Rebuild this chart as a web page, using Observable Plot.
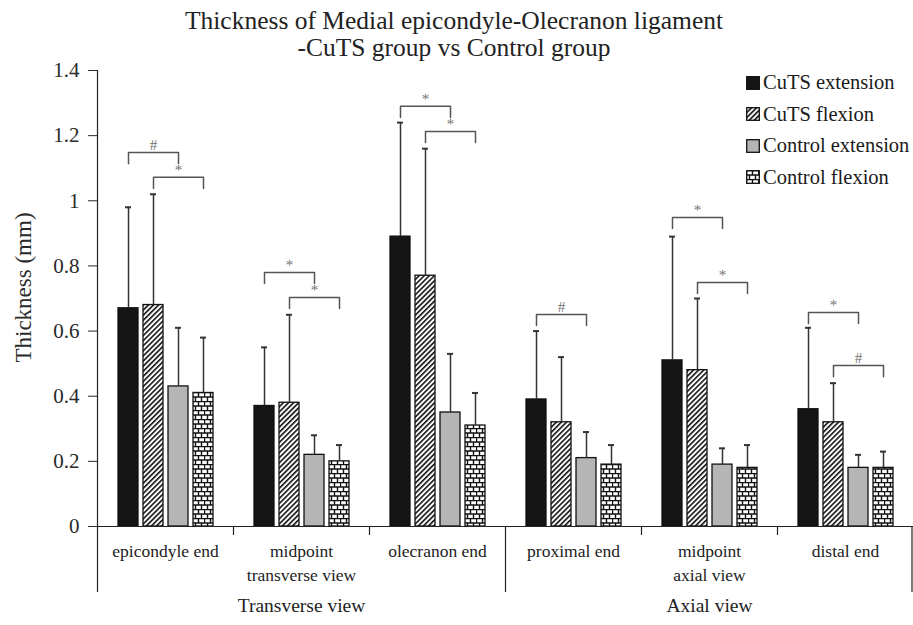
<!DOCTYPE html>
<html><head><meta charset="utf-8">
<script src="https://cdn.jsdelivr.net/npm/d3@7"></script>
<script src="https://cdn.jsdelivr.net/npm/@observablehq/plot@0.6"></script>
<style>
body{margin:0;background:#fff;overflow:hidden;font-family:"Liberation Serif",serif;}
#wrap{position:relative;width:913px;height:625px;overflow:hidden;}
#title{height:50px;text-align:center;font-size:25.5px;line-height:27.4px;color:#222;padding-top:7px;box-sizing:border-box;width:908px;white-space:nowrap;position:relative;z-index:1;}
#legend{position:absolute;left:746px;top:67px;font-size:20.5px;color:#1a1a1a;}
.li{display:flex;align-items:center;height:31.5px;white-space:nowrap}
.li svg{margin-right:3px}
</style></head><body>
<svg width="0" height="0" style="position:absolute">
<defs>
<pattern id="hatch" width="3.6" height="3.6" patternUnits="userSpaceOnUse" patternTransform="rotate(45)">
<rect width="3.6" height="3.6" fill="#fff"/><line x1="0.8" y1="0" x2="0.8" y2="3.6" stroke="#111" stroke-width="1.6"/>
</pattern>
<pattern id="brick" width="12" height="9" patternUnits="userSpaceOnUse">
<rect width="12" height="9" fill="#fff"/>
<path d="M0 0.5H12M0 5H12M0.5 0.5V5M6.5 0.5V5M3.5 5V9M9.5 5V9" stroke="#111" stroke-width="1.4" fill="none"/>
</pattern>
</defs></svg>
<div id="wrap">
<div id="title">Thickness of Medial epicondyle-Olecranon ligament<br>-CuTS group vs Control group</div>
<div id="chart"></div>
<div id="legend"></div>
</div>
<script>
const categories = ["epicondyle end", "midpoint\ntransverse view", "olecranon end", "proximal end", "midpoint\naxial view", "distal end"];
const groupNames = ["Transverse view", "Axial view"];
const groupMembers = [[0, 1, 2], [3, 4, 5]];
const series = ["CuTS extension", "CuTS flexion", "Control extension", "Control flexion"];
const fills = ["#151515", "url(#hatch)", "#b5b5b5", "url(#brick)"];
const yLabel = "Thickness (mm)";

const cutsExtension = [0.67, 0.37, 0.89, 0.39, 0.51, 0.36];
const cutsFlexion = [0.68, 0.38, 0.77, 0.32, 0.48, 0.32];
const controlExtension = [0.43, 0.22, 0.35, 0.21, 0.19, 0.18];
const controlFlexion = [0.41, 0.20, 0.31, 0.19, 0.18, 0.18];
// upper ends of the error bars
const cutsExtensionErr = [0.98, 0.55, 1.24, 0.60, 0.89, 0.61];
const cutsFlexionErr = [1.02, 0.65, 1.16, 0.52, 0.70, 0.44];
const controlExtensionErr = [0.61, 0.28, 0.53, 0.29, 0.24, 0.22];
const controlFlexionErr = [0.58, 0.25, 0.41, 0.25, 0.25, 0.23];

// significance brackets: category index, first series index (spans to +2), height, label
const bracketCat = [0, 0, 1, 1, 2, 2, 3, 4, 4, 5, 5];
const bracketFrom = [0, 1, 0, 1, 0, 1, 0, 0, 1, 0, 1];
const bracketTop = [1.148, 1.072, 0.780, 0.703, 1.290, 1.213, 0.651, 0.949, 0.749, 0.657, 0.494];
const bracketLabel = ["#", "*", "*", "*", "*", "*", "#", "*", "*", "*", "#"];
const bracketLeg = 0.034;

const yTicks = [0, 0.2, 0.4, 0.6, 0.8, 1, 1.2, 1.4];

const values = [cutsExtension, cutsFlexion, controlExtension, controlFlexion];
const errs = [cutsExtensionErr, cutsFlexionErr, controlExtensionErr, controlFlexionErr];
const rows = [];
categories.forEach((c, ci) => series.forEach((s, si) => rows.push({category: c, series: s, value: values[si][ci], err: errs[si][ci], fill: fills[si]})));

const brackets = bracketCat.map((ci, i) => ({id: i, category: categories[ci], a: series[bracketFrom[i]], mid: series[bracketFrom[i] + 1], b: series[bracketFrom[i] + 2], top: bracketTop[i], label: bracketLabel[i]}));
const bracketPts = brackets.flatMap(b => [
  {id: b.id, category: b.category, series: b.a, y: b.top - bracketLeg},
  {id: b.id, category: b.category, series: b.a, y: b.top},
  {id: b.id, category: b.category, series: b.b, y: b.top},
  {id: b.id, category: b.category, series: b.b, y: b.top - bracketLeg}
]);
const groups = groupNames.map((g, i) => ({name: g, mid: categories[groupMembers[i][1]]}));

const chart = Plot.plot({
  width: 913, height: 575,
  marginLeft: 97, marginRight: 0, marginTop: 20, marginBottom: 99,
  style: {fontFamily: "Liberation Serif", fontSize: "21px", color: "#2a2a2a", background: "transparent", overflow: "visible"},
  fx: {domain: categories, padding: 0, axis: null},
  x: {domain: series, paddingInner: 0.2, paddingOuter: 0.82, axis: null},
  y: {domain: [0, 1.4], axis: null},
  color: {type: "identity"},
  marks: [
    Plot.axisY(yTicks, {tickFormat: d => String(d), tickSize: 9, tickPadding: 9, fontSize: 21, label: null}),
    Plot.text([yLabel], {fx: () => categories[0], text: d => d, frameAnchor: "left", textAnchor: "middle", lineAnchor: "middle", rotate: -90, dx: -74, dy: -11, fontSize: 23, fill: "#2a2a2a"}),
    Plot.barY(rows, {fx: "category", x: "series", y: "value", fill: "fill", stroke: "#111", strokeWidth: 1.3}),
    Plot.ruleX(rows, {fx: "category", x: "series", y1: "value", y2: "err", stroke: "#333", strokeWidth: 1.5}),
    Plot.tickY(rows, {fx: "category", x: "series", y: "err", insetLeft: 7, insetRight: 7, stroke: "#333", strokeWidth: 2}),
    Plot.line(bracketPts, {fx: "category", x: "series", y: "y", z: "id", stroke: "#555", strokeWidth: 1.5}),
    Plot.text(brackets, {fx: "category", x: "mid", y: "top", text: "label", dy: -7, fill: "#707070", fontSize: 15}),
    Plot.ruleY([0], {stroke: "#222", strokeWidth: 1.2}),
    Plot.text(categories, {fx: d => d, text: d => d, frameAnchor: "bottom", lineAnchor: "top", dy: 13, fontSize: 17.5, lineHeight: 1.38, fill: "#222"}),
    Plot.text(groups, {fx: "mid", text: "name", frameAnchor: "bottom", lineAnchor: "top", dy: 72, fontSize: 19.5, fill: "#222"})
  ]
});
document.getElementById("chart").appendChild(chart);

// axis line and category dividers, placed through Plot's own scales
const fxS = chart.scale("fx"), yS = chart.scale("y");
const y0 = yS.apply(0), yTop = yS.apply(1.4);
const svg = d3.select(chart);
const g = svg.append("g").attr("stroke", "#222").attr("stroke-width", 1.2);
g.append("line").attr("x1", fxS.range[0] + 0.5).attr("x2", fxS.range[0] + 0.5).attr("y1", yTop).attr("y2", y0);
const groupStarts = groupMembers.map(m => categories[m[0]]);
categories.forEach(c => {
  const x = fxS.apply(c) + 0.5;
  const long = groupStarts.includes(c);
  g.append("line").attr("x1", x).attr("x2", x).attr("y1", y0).attr("y2", y0 + (long ? 66 : 9));
});
const xr = fxS.range[1] - 1;
g.append("line").attr("x1", xr).attr("x2", xr).attr("y1", y0).attr("y2", y0 + 66);

// legend
const leg = d3.select("#legend");
series.forEach((s, i) => {
  const row = leg.append("div").attr("class", "li");
  const sw = row.append("svg").attr("width", 14).attr("height", 14);
  sw.append("rect").attr("x", 0.7).attr("y", 0.7).attr("width", 12.6).attr("height", 12.6).attr("fill", fills[i]).attr("stroke", "#111").attr("stroke-width", 1.3);
  row.append("span").text(s);
});
</script>
</body></html>
